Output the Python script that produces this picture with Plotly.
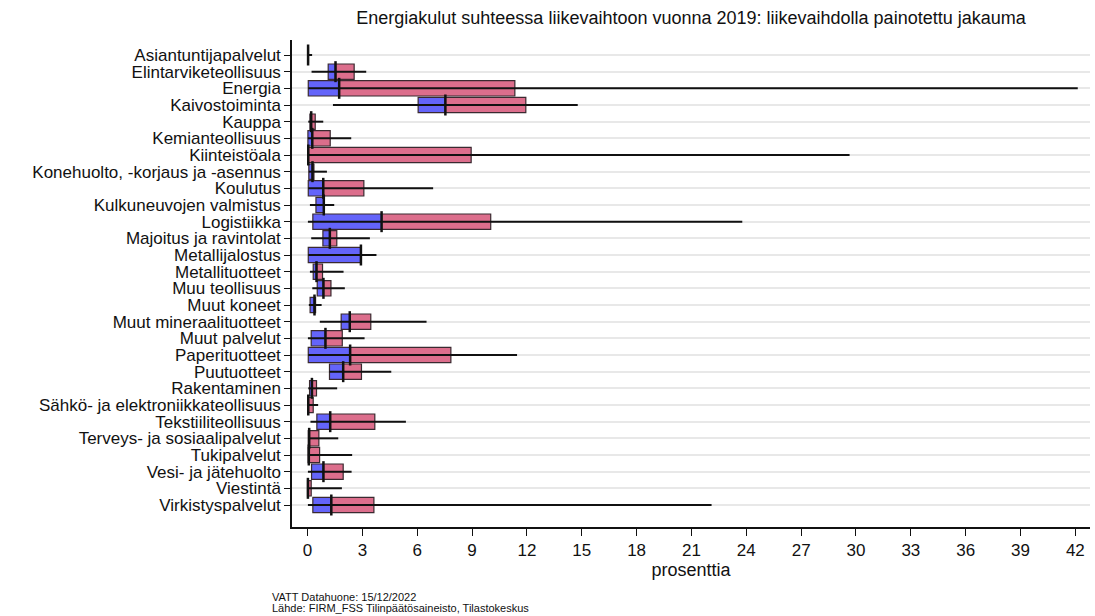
import plotly.graph_objects as go

categories = [
    "Asiantuntijapalvelut", "Elintarviketeollisuus", "Energia", "Kaivostoiminta",
    "Kauppa", "Kemianteollisuus", "Kiinteistöala", "Konehuolto, -korjaus ja -asennus",
    "Koulutus", "Kulkuneuvojen valmistus", "Logistiikka", "Majoitus ja ravintolat",
    "Metallijalostus", "Metallituotteet", "Muu teollisuus", "Muut koneet",
    "Muut mineraalituotteet", "Muut palvelut", "Paperituotteet", "Puutuotteet",
    "Rakentaminen", "Sähkö- ja elektroniikkateollisuus", "Tekstiiliteollisuus",
    "Terveys- ja sosiaalipalvelut", "Tukipalvelut", "Vesi- ja jätehuolto",
    "Viestintä", "Virkistyspalvelut",
]
p_min = [0.0, 0.22, 0.04, 1.39, 0.04, 0.02, 0.04, 0.07, 0.04, 0.13, 0.02, 0.20, 0.04, 0.13,
         0.26, 0.07, 0.67, 0.02, 0.04, 1.20, 0.04, 0.04, 0.16, 0.04, 0.02, 0.02, 0.0, 0.02]
q1 = [0.02, 1.13, 0.04, 6.05, 0.13, 0.02, 0.02, 0.07, 0.04, 0.46, 0.29, 0.84, 0.04, 0.31,
      0.53, 0.14, 1.84, 0.20, 0.04, 1.20, 0.11, 0.04, 0.51, 0.04, 0.03, 0.22, 0.0, 0.29]
median = [0.03, 1.53, 1.73, 7.54, 0.20, 0.26, 0.04, 0.27, 0.86, 0.89, 4.05, 1.22, 2.92, 0.49,
          0.87, 0.38, 2.31, 0.98, 2.33, 1.95, 0.24, 0.04, 1.24, 0.09, 0.07, 0.87, 0.02, 1.30]
q3 = [0.05, 2.55, 11.34, 11.94, 0.42, 1.24, 8.95, 0.35, 3.08, 0.92, 10.02, 1.60, 2.94, 0.82,
      1.28, 0.44, 3.46, 1.90, 7.84, 2.95, 0.49, 0.31, 3.68, 0.62, 0.66, 1.95, 0.20, 3.63]
p_max = [0.25, 3.21, 42.13, 14.78, 0.86, 2.39, 29.65, 1.06, 6.87, 1.46, 23.78, 3.41, 3.77, 1.97,
         2.04, 0.77, 6.51, 3.12, 11.46, 4.58, 1.62, 0.58, 5.38, 1.68, 2.44, 2.41, 1.88, 22.1]

x_ticks = list(range(0, 43, 3))
footer_lines = ["VATT Datahuone: 15/12/2022", "Lähde: FIRM_FSS Tilinpäätösaineisto, Tilastokeskus"]

BLUE = "#6464fa"
PINK = "#dc6e8c"
EDGE = "#3a2a30"
FONT = "Liberation Sans, Arial, sans-serif"

fig = go.Figure()

# whiskers
wx, wy = [], []
for c, a, b in zip(categories, p_min, p_max):
    wx += [a, b, None]
    wy += [c, c, None]
fig.add_trace(go.Scatter(x=wx, y=wy, mode="lines", line=dict(color="#111111", width=2),
                         hoverinfo="skip", showlegend=False))

# lower box (q1 -> median)
fig.add_trace(go.Bar(y=categories, x=[m - a for a, m in zip(q1, median)], base=q1,
                     orientation="h", width=0.92, marker=dict(color=BLUE, line=dict(color=EDGE, width=1.2)),
                     showlegend=False))
# upper box (median -> q3)
fig.add_trace(go.Bar(y=categories, x=[b - m for m, b in zip(median, q3)], base=median,
                     orientation="h", width=0.92, marker=dict(color=PINK, line=dict(color=EDGE, width=1.2)),
                     showlegend=False))
# median line
fig.add_trace(go.Scatter(x=median, y=categories, mode="markers",
                         marker=dict(symbol="line-ns", size=15, line=dict(color="#111111", width=2.5)),
                         showlegend=False, hoverinfo="skip"))

fig.update_layout(
    width=1095, height=616,
    margin=dict(l=292, r=5, t=40, b=89, autoexpand=False),
    paper_bgcolor="white", plot_bgcolor="white",
    barmode="overlay", bargap=0.08,
    font=dict(family=FONT, size=18, color="#111111"),
    title=dict(text="Energiakulut suhteessa liikevaihtoon vuonna 2019: liikevaihdolla painotettu jakauma",
               x=0.5, xref="paper", xanchor="center", y=1 - 18 / 616, yanchor="middle",
               font=dict(size=18, color="#111111")),
    xaxis=dict(range=[-0.85, 42.8], tickmode="array", tickvals=x_ticks, ticktext=[str(t) for t in x_ticks],
               showgrid=False, zeroline=False, showline=True, linecolor="#111111", linewidth=1.5,
               ticks="outside", ticklen=7, tickcolor="#111111", tickfont=dict(size=17), automargin=False,
               title=dict(text="prosenttia", standoff=2, font=dict(size=18))),
    yaxis=dict(type="category", categoryorder="array", categoryarray=categories,
               tickmode="array", tickvals=categories, ticktext=categories,
               range=[28.32, -0.9], showgrid=True, gridcolor="#e8e8e8", gridwidth=1.5,
               zeroline=False, showline=True, linecolor="#111111", linewidth=1.5, automargin=False,
               ticks="outside", ticklen=6, tickcolor="#111111", tickfont=dict(size=17)),
)

for i, line in enumerate(footer_lines):
    fig.add_annotation(text=line, xref="paper", yref="paper",
                       x=(270 - 292) / 798, y=-(597 + 11 * i - 527) / 487,
                       xanchor="left", yanchor="middle", align="left", showarrow=False,
                       font=dict(family=FONT, size=11, color="#111111"))

fig.write_html("out.html", config={"displayModeBar": False},
               post_script="document.body.style.margin='0';")
